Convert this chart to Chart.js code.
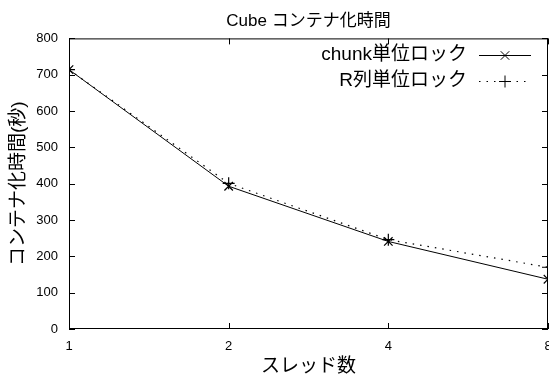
<!DOCTYPE html>
<html>
<head>
<meta charset="utf-8">
<script src="https://cdn.jsdelivr.net/npm/chart.js@4/dist/chart.umd.min.js"></script>
<style>
  html, body { margin: 0; padding: 0; background: #fff; }
  canvas { display: block; }
</style>
</head>
<body>
<canvas id="c" width="549" height="379"></canvas>
<script>
// Thread counts (log2 x axis) and container-ization time in seconds
const threads = [1, 2, 4, 8];
const chunkLock = [714, 393, 241, 137];
const rowLock = [714, 401, 246, 170];
const seriesNames = ['chunk単位ロック', 'R列単位ロック'];
const yTickValues = [0, 100, 200, 300, 400, 500, 600, 700, 800];
const titleText = 'Cube コンテナ化時間';
const xTitleText = 'スレッド数';
const yTitleText = 'コンテナ化時間(秒)';

const FONT = "'Liberation Sans', 'Noto Sans CJK JP', sans-serif";

const toPoints = (vals) => threads.map((t, i) => ({ x: t, y: vals[i] }));

// Box frame with inward tick marks on all four sides
const framePlugin = {
  id: 'frame',
  afterDatasetsDraw(chart) {
    const { ctx, chartArea: a, scales } = chart;
    ctx.save();
    ctx.strokeStyle = '#000';
    ctx.lineWidth = 1;
    ctx.strokeRect(a.left + 0.5, a.top + 0.5, a.right - a.left - 1, a.bottom - a.top - 1);
    ctx.beginPath();
    const tl = 6;
    yTickValues.forEach(v => {
      const y = Math.round(scales.y.getPixelForValue(v)) + 0.5;
      ctx.moveTo(a.left, y); ctx.lineTo(a.left + tl, y);
      ctx.moveTo(a.right, y); ctx.lineTo(a.right - tl, y);
    });
    threads.forEach(v => {
      const x = Math.round(scales.x.getPixelForValue(v)) + 0.5;
      ctx.moveTo(x, a.bottom); ctx.lineTo(x, a.bottom - tl);
      ctx.moveTo(x, a.top); ctx.lineTo(x, a.top + tl);
    });
    ctx.stroke();
    ctx.restore();
  }
};

// Key in the upper right: label text followed by a line sample
const keyPlugin = {
  id: 'key',
  afterDraw(chart) {
    const { ctx } = chart;
    const ds = chart.data.datasets;
    const textRight = 467;
    const x0 = 479, x1 = 531;
    const rows = [55, 81];
    ctx.save();
    ctx.font = '19px ' + FONT;
    ctx.textAlign = 'right';
    ctx.textBaseline = 'middle';
    ctx.fillStyle = '#000';
    ds.forEach((d, i) => {
      const y = rows[i];
      ctx.fillText(d.label, textRight, y);
      ctx.strokeStyle = '#000';
      ctx.lineWidth = 1;
      ctx.setLineDash(d.borderDash || []);
      ctx.beginPath();
      ctx.moveTo(x0, y + 0.5); ctx.lineTo(x1, y + 0.5);
      ctx.stroke();
      ctx.setLineDash([]);
      Chart.helpers.drawPoint(ctx, {
        pointStyle: d.pointStyle, radius: d.pointRadius, borderWidth: 1.2
      }, (x0 + x1) / 2, y + 0.5);
    });
    ctx.restore();
  }
};

new Chart(document.getElementById('c'), {
  type: 'line',
  data: {
    datasets: [
      {
        label: seriesNames[0],
        data: toPoints(chunkLock),
        borderColor: '#000',
        borderWidth: 1,
        pointStyle: 'crossRot',
        pointRadius: 6,
        pointBorderColor: '#000',
        pointBorderWidth: 1.2,
        tension: 0
      },
      {
        label: seriesNames[1],
        data: toPoints(rowLock),
        borderColor: '#000',
        borderWidth: 1.2,
        borderDash: [1.5, 6],
        pointStyle: 'cross',
        pointRadius: 6,
        pointBorderColor: '#000',
        pointBorderWidth: 1.2,
        tension: 0
      }
    ]
  },
  options: {
    responsive: false,
    animation: false,
    devicePixelRatio: 1,
    layout: { autoPadding: false, padding: { left: 0, right: 1, top: 0, bottom: 0 } },
    plugins: {
      legend: { display: false },
      tooltip: { enabled: false },
      title: {
        display: true,
        fullSize: false,
        text: titleText,
        color: '#000',
        font: { family: FONT, size: 17, weight: 'normal' },
        padding: { top: 11, bottom: 7 }
      }
    },
    scales: {
      x: {
        type: 'logarithmic',
        min: 1,
        max: 8,
        afterBuildTicks(scale) { scale.ticks = threads.map(v => ({ value: v })); },
        afterFit(scale) { scale.height = 50; scale.paddingLeft = 0; scale.paddingRight = 0; },
        grid: { display: false, drawTicks: false },
        border: { display: false },
        ticks: {
          color: '#000',
          font: { family: FONT, size: 13 },
          padding: 10,
          maxRotation: 0,
          autoSkip: false,
          callback: (v) => String(v)
        },
        title: {
          display: true,
          text: xTitleText,
          color: '#000',
          font: { family: FONT, size: 19 },
          padding: { top: 0, bottom: 1 }
        }
      },
      y: {
        min: 0,
        max: 800,
        afterBuildTicks(scale) { scale.ticks = yTickValues.map(v => ({ value: v })); },
        afterFit(scale) { scale.width = 69; scale.paddingTop = 0; scale.paddingBottom = 0; },
        grid: { display: false, drawTicks: false },
        border: { display: false },
        ticks: {
          color: '#000',
          font: { family: FONT, size: 13 },
          padding: 11
        },
        title: {
          display: true,
          text: yTitleText,
          color: '#000',
          font: { family: FONT, size: 19 },
          padding: { top: 7, bottom: 0 }
        }
      }
    }
  },
  plugins: [framePlugin, keyPlugin]
});
</script>
</body>
</html>
